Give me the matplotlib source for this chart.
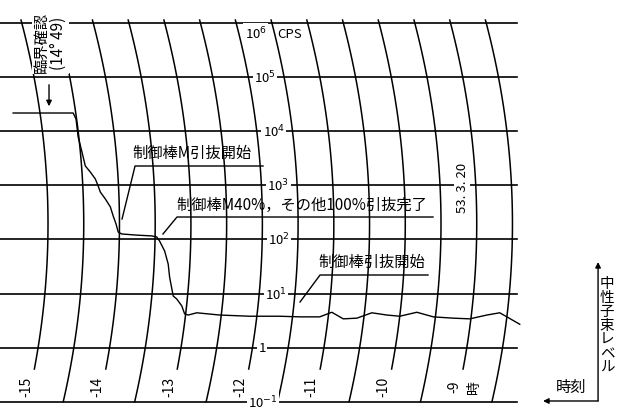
import matplotlib
matplotlib.use("Agg")
import matplotlib.pyplot as plt
import numpy as np

plt.rcParams['font.family'] = ['Noto Sans CJK JP', 'DejaVu Sans']

# chart paper: decades (CPS) and half-hour pen arcs (hour of day)
decades = [1e-1, 1, 1e1, 1e2, 1e3, 1e4, 1e5, 1e6]
decade_labels = ['10$^{-1}$', '1', '10$^{1}$', '10$^{2}$', '10$^{3}$',
                 '10$^{4}$', '10$^{5}$', '10$^{6}$']
arc_times = [15, 14.5, 14, 13.5, 13, 12.5, 12, 11.5, 11, 10.5, 10, 9.5, 9, 8.5]
hour_labels = ['-15', '-14', '-13', '-12', '-11', '-10', '-9']
hour_times = [15, 14, 13, 12, 11, 10, 9]

# neutron flux trace (hour, CPS)
trace_time = [15.11, 14.27, 14.23, 14.20, 14.15, 14.10, 14.03, 13.96, 13.92,
              13.89, 13.82, 13.75, 13.71, 13.67, 13.64, 13.59, 13.38, 13.17,
              13.10, 13.06, 12.99, 12.94, 12.92, 12.87, 12.82, 12.75, 12.71,
              12.66, 12.54, 12.22, 11.80, 11.38, 11.10, 10.82, 10.65, 10.49,
              10.30, 10.09, 9.88, 9.70, 9.46, 9.23, 8.95, 8.72, 8.48, 8.30,
              8.20, 8.02]
trace_cps = [21700, 21700, 16800, 7800, 4300, 2280, 1760, 1310, 970,
             750, 560, 400, 271, 193, 137, 126, 120, 116,
             111, 93, 61, 35, 20, 9.0, 7.9, 5.9, 4.2,
             4.0, 4.4, 4.0, 3.8, 3.8, 3.7, 3.7, 4.5, 3.4,
             3.5, 4.4, 4.0, 3.8, 4.5, 3.7, 3.5, 3.4, 4.0, 4.4,
             3.7, 2.7]


def arc_shift(cps):
    # recorder pen swings on an arc: shift (in hours) at a given level
    dy = (np.log10(cps) - 2.285) * 54.1
    return (27 - dy ** 2 / 1541) / 71.45


fig = plt.figure(figsize=(6.2, 4.1), dpi=100)
ax = fig.add_axes([0, 0, 1, 1])
ax.set_yscale('log')
ax.set_xlim(15.294, 6.617)
ax.set_ylim(10 ** -1.135, 10 ** 6.444)
ax.axis('off')

for d in decades:
    ax.plot([15.294, 8.058], [d, d], color='black', lw=1.2, zorder=1)

for i, t in enumerate(arc_times):
    bottom = -0.396 if i % 2 == 0 else -1.0
    top = 5.06 if i == 1 else 6.055  # 14:30 arc hidden under the label
    lv = 10 ** np.linspace(top, bottom, 80)
    ax.plot(t - arc_shift(lv), lv, color='black', lw=1.1, zorder=1)

for t, lab in zip(hour_times, hour_labels):
    ax.text(t - 5 / 71.45, 10 ** -0.71, lab, rotation=90, ha='center',
            va='center', fontsize=10)
ax.text(9 - 24 / 71.45, 10 ** -0.71, '時', rotation=90, ha='center',
        va='center', fontsize=10)

# decade labels follow the arc of the 12:00 line
for d, lab in zip(decades, decade_labels):
    lv = d if d < 1e6 else 10 ** 5.815
    ax.text(12 - arc_shift(lv) - 6 / 71.45, lv, lab, ha='left', va='center',
            fontsize=9.5, zorder=3,
            bbox=dict(boxstyle='square,pad=0.1', fc='white', ec='none'))
ax.text(11.235, 10 ** 5.815, 'CPS', ha='center', va='center', fontsize=9.5)

ax.plot(trace_time, trace_cps, color='black', lw=1.0, zorder=2)

# annotations
ax.text(14.59, 10 ** 5.65, '臨界確認\n(14° 49)', rotation=90, ha='center',
        va='center', fontsize=11, linespacing=1.0, zorder=4,
        bbox=dict(boxstyle='square,pad=0.1', fc='white', ec='none'))
ax.annotate('', xy=(14.608, 10 ** 4.41), xytext=(14.608, 10 ** 4.91),
            arrowprops=dict(arrowstyle='-|>', color='black', lw=1,
                            mutation_scale=8))

ax.text(12.614, 10 ** 3.616, '制御棒M引抜開始', ha='center', va='center',
        fontsize=11)
ax.plot([11.613, 13.404, 13.586], [10 ** 3.357, 10 ** 3.357, 10 ** 2.377],
        color='black', lw=1.0)

ax.text(11.067, 10 ** 2.654, '制御棒M40%，その他100%引抜完了', ha='center',
        va='center', fontsize=11, zorder=3)
ax.plot([9.234, 12.817, 13.013], [10 ** 2.414, 10 ** 2.414, 10 ** 2.100],
        color='black', lw=1.0)

ax.text(10.088, 10 ** 1.601, '制御棒引抜開始', ha='center', va='center',
        fontsize=11)
ax.plot([9.304, 10.815, 11.095], [10 ** 1.342, 10 ** 1.342, 10 ** 0.843],
        color='black', lw=1.0)

ax.text(8.828, 10 ** 2.969, '53. 3. 20', rotation=90, ha='center',
        va='center', fontsize=9.5, zorder=3,
        bbox=dict(boxstyle='square,pad=0.15', fc='white', ec='none'))

# axis key on the right
ax.annotate('', xy=(6.924, 10 ** 1.582), xytext=(6.924, 10 ** -0.987),
            arrowprops=dict(arrowstyle='-|>', color='black', lw=1,
                            mutation_scale=8, shrinkA=0, shrinkB=0))
ax.annotate('', xy=(7.694, 10 ** -0.987), xytext=(6.924, 10 ** -0.987),
            arrowprops=dict(arrowstyle='-|>', color='black', lw=1,
                            mutation_scale=8, shrinkA=0, shrinkB=0))
ax.text(6.798, 10 ** 0.418, '\n'.join('中性子束レベル'), ha='center',
        va='center', fontsize=10.5, linespacing=1.0)
ax.text(7.302, 10 ** -0.71, '時刻', ha='center', va='center', fontsize=11)

fig.savefig('out.png', dpi=100)
